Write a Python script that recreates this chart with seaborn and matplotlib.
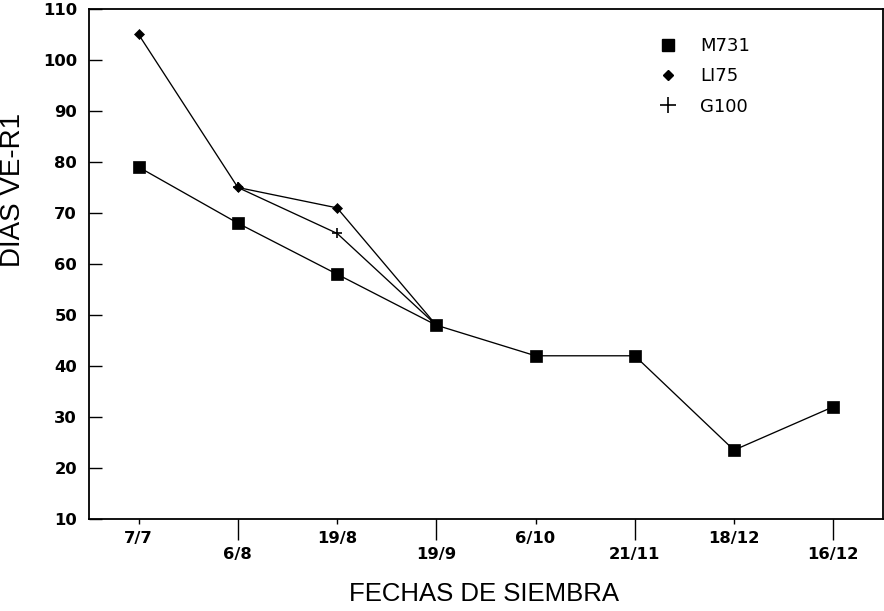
import matplotlib
matplotlib.use('Agg')
import matplotlib.pyplot as plt
from matplotlib.lines import Line2D

import numpy as np
import pandas as pd
import seaborn as sns

# sowing dates (categorical x axis)
fechas = ['7/7', '6/8', '19/8', '19/9', '6/10', '21/11', '18/12', '16/12']

# days VE-R1 per variety
m731 = [79, 68, 58, 48, 42, 42, 23.5, 32]
li75 = [105, 75, 71, 48, np.nan, np.nan, np.nan, np.nan]
g100 = [np.nan, 75, 66, 48, np.nan, np.nan, np.nan, np.nan]

variedades = ['M731', 'LI75', 'G100']
yticks = list(range(10, 111, 10))


def buildFrame():
    """Long format table for seaborn."""
    pos = np.arange(len(fechas))
    rows = []
    for name, vals in zip(variedades, [m731, li75, g100]):
        for p, v in zip(pos, vals):
            rows.append({'pos': p, 'fecha': fechas[p], 'dias': v, 'variedad': name})
    df = pd.DataFrame(rows).dropna()
    return df


def main():
    sns.set_style('white')
    plt.rcParams['font.family'] = ['DejaVu Sans']
    plt.rcParams['text.color'] = 'black'
    plt.rcParams['axes.labelcolor'] = 'black'

    fig = plt.figure(figsize=(8.84, 6.11), dpi=100)
    ax = fig.add_axes([0.1007, 0.1506, 0.898, 0.8347])

    df = buildFrame()
    markers = {'M731': 's', 'LI75': 'D', 'G100': '+'}
    sizes = {'M731': 8, 'LI75': 5.5, 'G100': 7}
    for name in variedades:
        sub = df[df.variedad == name]
        sns.lineplot(data=sub, x='pos', y='dias', ax=ax, color='black',
                     linewidth=0.95, marker=markers[name], markersize=sizes[name],
                     markeredgewidth=1.2 if name == 'G100' else 0.5,
                     markeredgecolor='black', sort=False, legend=False)

    ax.set_xlim(-0.5, len(fechas) - 0.5)
    ax.set_ylim(10, 110)
    ax.set_yticks(yticks)
    ax.set_xticks(np.arange(len(fechas)))
    ax.set_xticklabels(fechas)

    for side in ['left', 'bottom', 'top', 'right']:
        ax.spines[side].set_visible(True)
        ax.spines[side].set_color('black')
        ax.spines[side].set_linewidth(1.3)

    ax.tick_params(axis='y', direction='in', length=9.5, width=1, pad=8.6,
                   labelsize=11.8, colors='black', left=True)
    ax.tick_params(axis='x', direction='out', length=3.6, width=1, pad=5.3,
                   labelsize=11.8, colors='black', bottom=True)
    for lab in ax.get_xticklabels() + ax.get_yticklabels():
        lab.set_fontweight('bold')

    # staggered date labels: every second tick is longer
    for t in ax.xaxis.get_major_ticks()[1::2]:
        t.set_pad(5.3 + 15 - 3.6)
        t.tick1line.set_markersize(15)

    ax.set_xlabel('FECHAS DE SIEMBRA', fontsize=18.5, family='Liberation Sans', labelpad=0)
    ax.set_ylabel('DIAS VE-R1', fontsize=20, family='Liberation Sans')
    ax.xaxis.set_label_coords(0.4975, -0.123)
    ax.yaxis.set_label_coords(-0.079, 0.645)

    handles = [Line2D([], [], linestyle='', color='black', marker='s', markersize=8.5),
               Line2D([], [], linestyle='', color='black', marker='D', markersize=5.5),
               Line2D([], [], linestyle='', color='black', marker='+', markersize=11,
                      markeredgewidth=1.2)]
    ax.legend(handles, variedades, loc='upper left', bbox_to_anchor=(0.718, 0.945),
              frameon=False, borderpad=0, borderaxespad=0, handlelength=1.0,
              handletextpad=1.28, labelspacing=0.68, prop={'size': 13})

    fig.savefig('out.png', dpi=100)


if __name__ == '__main__':
    main()
